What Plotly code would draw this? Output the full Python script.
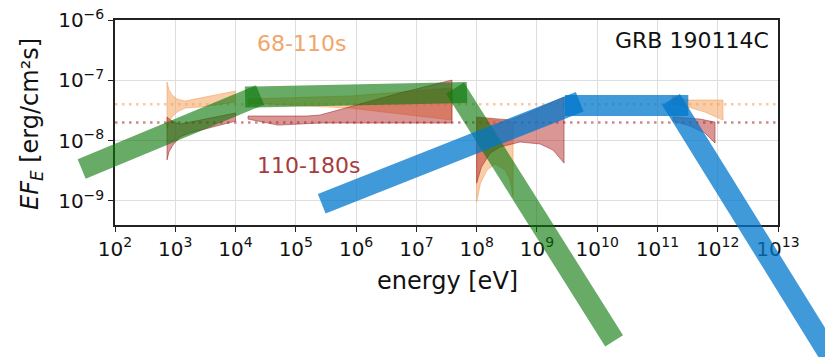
import math
import plotly.graph_objects as go

# ---------------- data ----------------
# thick broken power-law segments (energy [eV], E F_E [erg/cm^2/s])
green_seg1_E = [28.0, 2.55e4];   green_seg1_F = [3.39e-9, 5.70e-8]
green_seg2_E = [1.44e4, 6.92e7]; green_seg2_F = [5.28e-8, 6.28e-8]
green_seg3_E = [4.38e7, 1.91e10]; green_seg3_F = [7.45e-8, 4.8e-12]

blue_seg1_E = [2.69e5, 5.13e9];  blue_seg1_F = [9.0e-10, 4.42e-8]
blue_seg2_E = [2.92e9, 3.25e11]; blue_seg2_F = [3.82e-8, 3.82e-8]
blue_seg3_E = [1.68e11, 1.58e14]; blue_seg3_F = [4.81e-8, 7.8e-13]

# butterflies, 68-110 s (orange)
o1_E_up = [730, 787, 883, 1070, 1450, 1.0e4]
o1_F_up = [9.38e-8, 6.90e-8, 5.70e-8, 4.90e-8, 4.54e-8, 6.65e-8]
o1_E_lo = [730, 787, 883, 1070, 1450, 2570, 1.0e4]
o1_F_lo = [1.62e-8, 2.03e-8, 2.46e-8, 2.98e-8, 3.47e-8, 3.61e-8, 4.36e-8]

o2_E_up = [1.61e4, 7.92e5, 3.9e7]
o2_F_up = [4.90e-8, 5.49e-8, 7.45e-8]
o2_E_lo = [1.61e4, 7.92e5, 3.9e7]
o2_F_lo = [4.20e-8, 3.47e-8, 2.20e-8]

o3_E_up = [1.0e8, 2.02e8, 4.02e8]
o3_F_up = [2.37e-8, 2.20e-8, 2.03e-8]
o3_E_lo = [1.0e8, 1.16e8, 1.49e8, 2.02e8, 2.96e8, 3.58e8, 4.02e8]
o3_F_lo = [9.6e-10, 1.98e-9, 3.25e-9, 4.1e-9, 3.25e-9, 2.22e-9, 1.16e-9]

o4_E_up = [1.75e11, 3.21e11, 1.22e12]
o4_F_up = [5.49e-8, 4.71e-8, 4.71e-8]
o4_E_lo = [1.75e11, 3.21e11, 6.15e11, 1.22e12]
o4_F_lo = [4.05e-8, 3.61e-8, 2.98e-8, 2.20e-8]

# butterflies, 110-180 s (red)
r1_E_up = [730, 883, 1200, 1.0e4]
r1_F_up = [2.46e-8, 2.11e-8, 1.88e-8, 2.87e-8]
r1_E_lo = [730, 787, 916, 1200, 1750, 1.0e4]
r1_F_lo = [4.8e-9, 6.5e-9, 8.5e-9, 1.15e-8, 1.34e-8, 2.11e-8]

r2_E_up = [1.61e4, 1.53e5, 2.52e5, 7.92e5, 5.35e6, 3.9e7]
r2_F_up = [2.56e-8, 2.56e-8, 2.66e-8, 3.61e-8, 6.16e-8, 1.01e-7]
r2_E_lo = [1.61e4, 5.06e4, 1.18e5, 2.52e5, 3.9e7]
r2_F_lo = [2.28e-8, 1.81e-8, 1.88e-8, 1.96e-8, 1.96e-8]

r3_E_up = [1.0e8, 2.02e8, 3.58e8, 7.69e8, 2.82e9]
r3_F_up = [2.46e-8, 2.28e-8, 2.20e-8, 2.98e-8, 5.28e-8]
r3_E_lo = [1.0e8, 1.2e8, 1.67e8, 2.44e8, 5.25e8, 1.13e9, 1.85e9, 2.82e9]
r3_F_lo = [1.98e-9, 3.65e-9, 6.2e-9, 7.83e-9, 9.5e-9, 8.8e-9, 7.0e-9, 4.25e-9]

r4_E_up = [1.81e11, 5.08e11, 9.02e11]
r4_F_up = [2.46e-8, 2.28e-8, 2.03e-8]
r4_E_lo = [1.81e11, 3.47e11, 6.15e11, 9.02e11]
r4_F_lo = [2.11e-8, 1.75e-8, 1.34e-8, 9.1e-9]

# reference flux levels (dotted)
level_68_110 = 4.0e-8
level_110_180 = 2.0e-8
level_E = [1e2, 1e13]

# ticks
x_tickvals = [10.0 ** k for k in range(2, 14)]
x_ticktext = ["10<sup>%d</sup>" % k for k in range(2, 14)]
y_tickvals = [1e-9, 1e-8, 1e-7, 1e-6]
y_ticktext = ["10<sup>\u22129</sup>", "10<sup>\u22128</sup>", "10<sup>\u22127</sup>", "10<sup>\u22126</sup>"]

# ---------------- layout geometry ----------------
W, H = 825, 357
AX_L, AX_R, AX_T, AX_B = 115, 778, 20, 225
XR = [2.0, 13.0]
YR = [math.log10(4e-10), -6.0]
ppx = (AX_R - AX_L) / (XR[1] - XR[0])
ppy = (AX_B - AX_T) / (YR[1] - YR[0])
XR2 = [XR[0] - AX_L / ppx, XR[1] + (W - AX_R) / ppx]
YR2 = [YR[0] - (H - AX_B) / ppy, YR[1] + AX_T / ppy]

FONT = "DejaVu Sans"
ORANGE_FILL = "rgba(244,164,96,0.55)"
RED_FILL = "rgba(178,34,34,0.48)"
RED_EDGE = "rgba(150,30,30,0.5)"

fig = go.Figure()

def butterfly(Eu, Fu, El, Fl, fill, edge):
    xs = list(Eu) + list(reversed(El)) + [Eu[0]]
    ys = list(Fu) + list(reversed(Fl)) + [Fu[0]]
    fig.add_trace(go.Scatter(x=xs, y=ys, mode="lines", fill="toself",
                             fillcolor=fill, line=dict(color=edge, width=1),
                             hoverinfo="skip", showlegend=False,
                             xaxis="x", yaxis="y"))

# dotted levels
fig.add_trace(go.Scatter(x=level_E, y=[level_68_110] * 2, mode="lines",
                         line=dict(color="rgba(244,164,96,0.6)", width=2.5, dash="2.5px,4.5px"),
                         showlegend=False, hoverinfo="skip"))
fig.add_trace(go.Scatter(x=level_E, y=[level_110_180] * 2, mode="lines",
                         line=dict(color="rgba(165,42,42,0.55)", width=2.5, dash="2.5px,4.5px"),
                         showlegend=False, hoverinfo="skip"))

for Eu, Fu, El, Fl in [(o1_E_up, o1_F_up, o1_E_lo, o1_F_lo),
                       (o2_E_up, o2_F_up, o2_E_lo, o2_F_lo),
                       (o3_E_up, o3_F_up, o3_E_lo, o3_F_lo),
                       (o4_E_up, o4_F_up, o4_E_lo, o4_F_lo)]:
    butterfly(Eu, Fu, El, Fl, ORANGE_FILL, "rgba(244,164,96,0.6)")
for Eu, Fu, El, Fl in [(r1_E_up, r1_F_up, r1_E_lo, r1_F_lo),
                       (r2_E_up, r2_F_up, r2_E_lo, r2_F_lo),
                       (r3_E_up, r3_F_up, r3_E_lo, r3_F_lo),
                       (r4_E_up, r4_F_up, r4_E_lo, r4_F_lo)]:
    butterfly(Eu, Fu, El, Fl, RED_FILL, RED_EDGE)

# thick segments on a full-canvas overlay axis (not clipped to the plot box)
GREEN = "rgba(10,120,10,0.62)"
BLUE = "rgba(0,119,204,0.75)"
for E, F, c in [(green_seg1_E, green_seg1_F, GREEN),
                (green_seg2_E, green_seg2_F, GREEN),
                (green_seg3_E, green_seg3_F, GREEN),
                (blue_seg1_E, blue_seg1_F, BLUE),
                (blue_seg2_E, blue_seg2_F, BLUE),
                (blue_seg3_E, blue_seg3_F, BLUE)]:
    fig.add_trace(go.Scatter(x=E, y=F, mode="lines", line=dict(color=c, width=21),
                             showlegend=False, hoverinfo="skip",
                             xaxis="x2", yaxis="y2"))

axis_common = dict(showline=True, mirror=True, linecolor="#222", linewidth=1.5,
                   ticks="outside", ticklen=5, tickwidth=1.2, tickcolor="#222",
                   showgrid=True, gridcolor="#dedede", gridwidth=1, zeroline=False,
                   tickfont=dict(family=FONT, size=20, color="#111"))

fig.update_layout(
    width=W, height=H,
    margin=dict(l=0, r=0, t=0, b=0, pad=0),
    paper_bgcolor="white", plot_bgcolor="rgba(0,0,0,0)",
    template="none",
    showlegend=False,
    xaxis=dict(type="log", range=XR, domain=[AX_L / W, AX_R / W], anchor="y",
               tickvals=x_tickvals, ticktext=x_ticktext, automargin=False, **axis_common),
    yaxis=dict(type="log", range=YR, domain=[1 - AX_B / H, 1 - AX_T / H], anchor="x",
               tickvals=y_tickvals, ticktext=y_ticktext, automargin=False, **axis_common),
    xaxis2=dict(type="log", range=XR2, domain=[0, 1], anchor="y2", visible=False, fixedrange=True),
    yaxis2=dict(type="log", range=YR2, domain=[0, 1], anchor="x2", visible=False, fixedrange=True),
    annotations=[
        dict(text="68-110s", xref="paper", yref="paper", x=255 / W, y=1 - 43 / H,
             xanchor="left", yanchor="middle", showarrow=False,
             font=dict(family=FONT, size=22, color="#f2a66a")),
        dict(text="110-180s", xref="paper", yref="paper", x=255 / W, y=1 - 165 / H,
             xanchor="left", yanchor="middle", showarrow=False,
             font=dict(family=FONT, size=22, color="#a83c3c")),
        dict(text="GRB 190114C", xref="paper", yref="paper", x=771 / W, y=1 - 40 / H,
             xanchor="right", yanchor="middle", showarrow=False,
             font=dict(family=FONT, size=22, color="#111")),
        dict(text="energy [eV]", xref="paper", yref="paper", x=447 / W, y=1 - 281 / H,
             xanchor="center", yanchor="middle", showarrow=False,
             font=dict(family=FONT, size=24, color="#111")),
        dict(text="<i>EF<sub>E</sub></i> [erg/cm\u00b2s]", xref="paper", yref="paper",
             x=31 / W, y=1 - 124 / H, xanchor="center", yanchor="middle", textangle=-90,
             showarrow=False, font=dict(family=FONT, size=24, color="#111")),
    ],
)

fig.write_html("out.html")
